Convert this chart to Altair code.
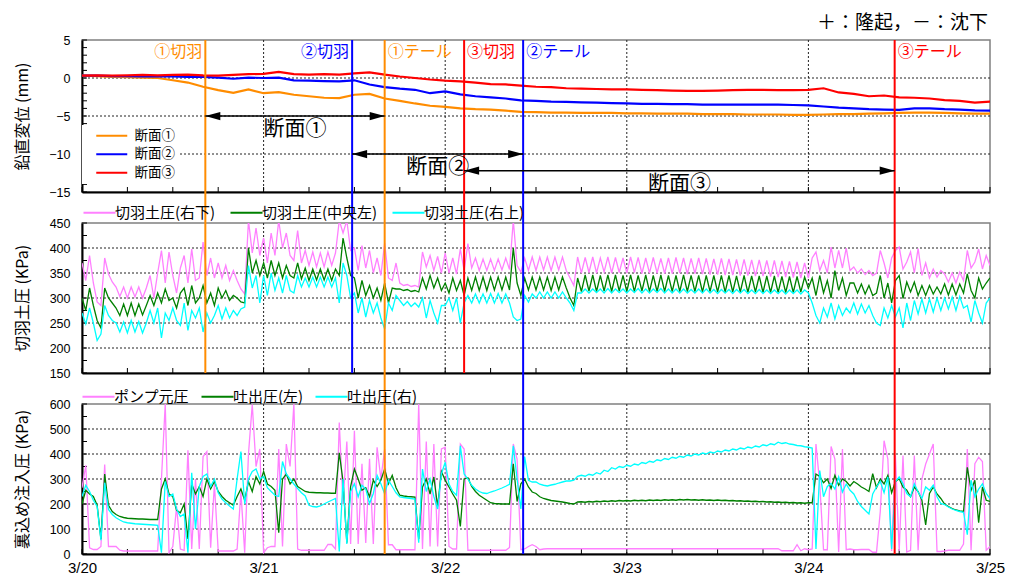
import altair as alt
import pandas as pd

FONT = "Noto Sans CJK JP"
NUM_FONT = "Liberation Sans"

# ---------------- time grids (hours after 3/20 00:00) ----------------
HOURS_P1 = [0, 2, 4, 6, 8, 10, 12, 14, 16, 18,
            20, 22, 24, 26, 28, 30, 32, 34, 36, 38,
            40, 42, 44, 46, 48, 50, 52, 54, 56, 58,
            60, 62, 64, 66, 68, 70, 72, 74, 76, 78,
            80, 82, 84, 86, 88, 90, 92, 94, 96, 98,
            100, 102, 104, 106, 108, 110, 112, 114, 116, 118,
            120]

HOURS = [0, 0.5, 1, 1.5, 2, 2.5, 3, 3.5, 4, 4.5, 5, 5.5,
         6, 6.5, 7, 7.5, 8, 8.5, 9, 9.5, 10, 10.5, 11, 11.5,
         12, 12.5, 13, 13.5, 14, 14.5, 15, 15.5, 16, 16.5, 17, 17.5,
         18, 18.5, 19, 19.5, 20, 20.5, 21, 21.5, 22, 22.5, 23, 23.5,
         24, 24.5, 25, 25.5, 26, 26.5, 27, 27.5, 28, 28.5, 29, 29.5,
         30, 30.5, 31, 31.5, 32, 32.5, 33, 33.5, 34, 34.5, 35, 35.5,
         36, 36.5, 37, 37.5, 38, 38.5, 39, 39.5, 40, 40.5, 41, 41.5,
         42, 42.5, 43, 43.5, 44, 44.5, 45, 45.5, 46, 46.5, 47, 47.5,
         48, 48.5, 49, 49.5, 50, 50.5, 51, 51.5, 52, 52.5, 53, 53.5,
         54, 54.5, 55, 55.5, 56, 56.5, 57, 57.5, 58, 58.5, 59, 59.5,
         60, 60.5, 61, 61.5, 62, 62.5, 63, 63.5, 64, 64.5, 65, 65.5,
         66, 66.5, 67, 67.5, 68, 68.5, 69, 69.5, 70, 70.5, 71, 71.5,
         72, 72.5, 73, 73.5, 74, 74.5, 75, 75.5, 76, 76.5, 77, 77.5,
         78, 78.5, 79, 79.5, 80, 80.5, 81, 81.5, 82, 82.5, 83, 83.5,
         84, 84.5, 85, 85.5, 86, 86.5, 87, 87.5, 88, 88.5, 89, 89.5,
         90, 90.5, 91, 91.5, 92, 92.5, 93, 93.5, 94, 94.5, 95, 95.5,
         96, 96.5, 97, 97.5, 98, 98.5, 99, 99.5, 100, 100.5, 101, 101.5,
         102, 102.5, 103, 103.5, 104, 104.5, 105, 105.5, 106, 106.5, 107, 107.5,
         108, 108.5, 109, 109.5, 110, 110.5, 111, 111.5, 112, 112.5, 113, 113.5,
         114, 114.5, 115, 115.5, 116, 116.5, 117, 117.5, 118, 118.5, 119, 119.5,
         120]

DAY_TICKS = [0, 24, 48, 72, 96, 120]
QUARTER_TICKS = [0, 6, 12, 18, 24, 30, 36, 42, 48, 54, 60, 66, 72, 78, 84, 90, 96, 102, 108, 114, 120]

# ---------------- panel 1: vertical displacement (mm) ----------------
P1_NAMES = ["断面①", "断面②", "断面③"]
P1_COLORS = ["#FF8C00", "#0000FF", "#FF0000"]
SEC1_MM = [0.3, 0.25, 0.15, 0.1, 0.05, 0.0, -0.3, -0.6, -1.15, -1.6,
           -1.95, -1.5, -2.0, -1.85, -2.2, -2.4, -2.6, -2.65, -2.2, -2.1,
           -2.7, -3.0, -3.35, -3.65, -3.8, -4.0, -4.1, -4.15, -4.3, -4.45,
           -4.5, -4.55, -4.55, -4.6, -4.6, -4.6, -4.65, -4.65, -4.7, -4.7,
           -4.7, -4.75, -4.75, -4.75, -4.8, -4.8, -4.8, -4.85, -4.85, -4.8,
           -4.75, -4.75, -4.7, -4.65, -4.6, -4.55, -4.55, -4.6, -4.65, -4.7,
           -4.7]
SEC2_MM = [0.3, 0.3, 0.25, 0.25, 0.2, 0.2, 0.2, 0.15, 0.15, 0.05,
           -0.1, 0.05, 0.0, 0.05, -0.3, -0.35, -0.4, -0.45, -0.3, -0.85,
           -1.2, -1.4, -1.55, -2.0, -1.75, -2.15, -2.4, -2.55, -2.7, -2.95,
           -3.0, -3.1, -3.15, -3.2, -3.25, -3.3, -3.35, -3.4, -3.4, -3.45,
           -3.45, -3.5, -3.5, -3.5, -3.5, -3.5, -3.5, -3.55, -3.6, -3.75,
           -3.9, -4.0, -4.1, -4.15, -4.2, -4.0, -4.0, -4.1, -4.15, -4.25,
           -4.3]
SEC3_MM = [0.3, 0.35, 0.3, 0.35, 0.4, 0.35, 0.4, 0.45, 0.35, 0.3,
           0.4, 0.5, 0.55, 0.8, 0.5, 0.45, 0.5, 0.45, 0.6, 0.75,
           0.45, 0.2, 0.0, -0.2, -0.35, -0.45, -0.6, -0.8, -0.85, -1.0,
           -1.15, -1.2, -1.35, -1.4, -1.45, -1.5, -1.5, -1.55, -1.6, -1.65,
           -1.7, -1.7, -1.65, -1.6, -1.55, -1.55, -1.6, -1.6, -1.55, -1.35,
           -1.9, -2.1, -2.4, -2.3, -2.55, -2.6, -2.7, -2.9, -3.0, -3.25,
           -3.1]

# ---------------- panel 2: face earth pressure (kPa) ----------------
P2_NAMES = ["切羽土圧(右下)", "切羽土圧(中央左)", "切羽土圧(右上)"]
P2_COLORS = ["#FF80FF", "#008000", "#00FFFF"]
FACE_RIGHT_LOWER = [
    370, 335, 385, 330, 292, 285, 380, 348, 332, 322, 303, 322,
    300, 322, 302, 322, 300, 320, 345, 300, 350, 395, 330, 392,
    345, 310, 360, 385, 330, 398, 335, 340, 412, 345, 380, 340,
    370, 340, 365, 335, 355, 335, 318, 308, 455, 390, 440, 385,
    420, 370, 430, 385, 455, 400, 430, 385, 375, 435, 370, 395,
    365, 392, 362, 390, 362, 392, 365, 390, 455, 430, 455, 395,
    400, 355, 405, 360, 395, 350, 380, 345, 410, 340, 335, 370,
    330, 325, 327, 323, 325, 322, 392, 362, 385, 355, 383, 350,
    390, 350, 380, 348, 398, 355, 409, 360, 380, 355, 378, 355,
    378, 355, 378, 356, 380, 357, 455, 365, 352, 380, 355, 382,
    355, 382, 356, 382, 355, 382, 356, 382, 355, 340, 325, 382,
    350, 381, 351, 382, 350, 380, 352, 382, 350, 381, 351, 380,
    350, 382, 351, 381, 349, 380, 350, 381, 350, 379, 349, 380,
    349, 381, 350, 380, 348, 379, 349, 380, 348, 379, 347, 378,
    347, 379, 346, 378, 346, 377, 345, 377, 345, 376, 344, 376,
    344, 375, 343, 375, 342, 374, 342, 373, 341, 372, 340, 370,
    340, 380, 392, 355, 375, 350, 402, 360, 395, 360, 400, 355,
    362, 350, 358, 347, 355, 345, 350, 395, 370, 340, 380, 395,
    402, 358, 372, 392, 350, 399, 345, 370, 340, 358, 342, 355,
    348, 332, 350, 330, 352, 335, 395, 360, 372, 398, 358, 385, 365]
FACE_CENTER_LEFT = [
    300, 275, 320, 285, 255, 240, 320, 300, 290, 280, 265, 288,
    265, 290, 265, 288, 266, 285, 305, 285, 310, 290, 318, 295,
    300, 280, 310, 320, 285, 325, 290, 300, 325, 290, 310, 285,
    320, 300, 315, 295, 305, 300, 292, 290, 400, 350, 375, 345,
    370, 340, 375, 345, 370, 340, 365, 345, 340, 370, 338, 360,
    335, 358, 336, 358, 336, 358, 335, 358, 345, 420, 380, 345,
    340, 300, 335, 305, 325, 300, 320, 295, 330, 290, 320, 318,
    318, 315, 317, 313, 315, 312, 340, 318, 345, 320, 340, 315,
    330, 310, 340, 315, 335, 305, 340, 315, 342, 315, 342, 315,
    342, 316, 342, 316, 342, 316, 400, 330, 305, 340, 316, 342,
    316, 342, 316, 342, 315, 342, 316, 342, 320, 300, 285, 340,
    313, 346, 314, 346, 313, 345, 314, 346, 313, 346, 314, 345,
    313, 346, 313, 345, 314, 346, 313, 345, 313, 346, 313, 345,
    313, 345, 313, 346, 313, 345, 313, 345, 312, 345, 313, 345,
    312, 345, 312, 345, 312, 344, 312, 345, 311, 344, 312, 344,
    311, 344, 311, 344, 311, 343, 311, 343, 311, 343, 312, 342,
    320, 340, 305, 345, 310, 335, 300, 355, 315, 340, 305, 330,
    330, 310, 328, 308, 325, 305, 310, 345, 300, 330, 290, 335,
    345, 299, 332, 312, 332, 305, 325, 305, 325, 308, 322, 308,
    328, 306, 328, 306, 328, 310, 348, 315, 300, 340, 318, 330, 340]
FACE_RIGHT_UPPER = [
    270, 248, 280, 250, 215, 228, 285, 265, 255, 250, 232, 252,
    230, 255, 232, 253, 230, 250, 275, 250, 280, 220, 270, 255,
    280, 255, 245, 290, 235, 275, 260, 280, 232, 270, 250, 265,
    285, 258, 280, 260, 275, 265, 278, 282, 365, 320, 345, 290,
    345, 305, 350, 315, 340, 310, 345, 315, 310, 345, 322, 340,
    322, 342, 322, 342, 322, 342, 322, 340, 290, 370, 345, 300,
    310, 270, 300, 262, 295, 270, 290, 260, 238, 290, 275, 305,
    295, 285, 293, 283, 290, 282, 300, 260, 295, 270, 250, 285,
    285, 300, 275, 300, 250, 290, 305, 290, 308, 290, 308, 290,
    309, 290, 309, 290, 308, 290, 262, 255, 258, 305, 292, 308,
    300, 312, 300, 312, 300, 312, 300, 312, 300, 290, 275, 310,
    310, 318, 310, 318, 311, 318, 310, 319, 310, 318, 311, 318,
    310, 318, 311, 319, 310, 318, 310, 318, 311, 319, 310, 318,
    310, 318, 310, 318, 310, 317, 310, 318, 310, 318, 310, 317,
    309, 317, 310, 317, 309, 317, 310, 317, 309, 316, 309, 317,
    309, 316, 309, 316, 309, 316, 308, 316, 309, 316, 308, 316,
    310, 290, 265, 250, 280, 262, 290, 258, 285, 265, 280, 270,
    290, 268, 288, 270, 285, 265, 250, 245, 280, 260, 285, 262,
    280, 240, 290, 255, 295, 268, 298, 270, 298, 272, 300, 275,
    300, 278, 302, 275, 303, 280, 285, 252, 295, 270, 250, 290, 300]

# ---------------- panel 3: backfill injection pressure (kPa) ----------------
P3_NAMES = ["ポンプ元圧", "吐出圧(左)", "吐出圧(右)"]
P3_COLORS = ["#FF80FF", "#008000", "#00FFFF"]
PUMP = [
    265, 355, 25, 18, 18, 30, 358, 30, 30, 30, 15, 12,
    12, 12, 12, 12, 12, 12, 12, 12, 12, 300, 600, 5,
    30, 190, 20, 15, 415, 20, 300, 20, 390, 410, 25, 280,
    12, 12, 12, 12, 12, 20, 250, 5, 400, 598, 350, 420,
    5, 25, 30, 30, 420, 30, 440, 350, 600, 20, 15, 15,
    15, 15, 15, 15, 15, 38, 38, 20, 526, 200, 450, 40,
    493, 40, 361, 44, 381, 40, 427, 300, 420, 37, 37, 17,
    17, 17, 17, 17, 17, 600, 20, 450, 30, 440, 30, 420,
    427, 30, 20, 20, 440, 420, 15, 15, 15, 15, 15, 15,
    15, 15, 15, 15, 15, 26, 440, 380, 17, 20, 30, 37,
    30, 17, 20, 21, 21, 21, 21, 21, 21, 21, 21, 21,
    21, 21, 21, 21, 21, 21, 21, 21, 21, 21, 21, 21,
    21, 21, 21, 21, 21, 21, 21, 21, 21, 21, 21, 21,
    21, 21, 21, 21, 21, 21, 21, 21, 21, 21, 21, 21,
    21, 21, 21, 21, 21, 21, 21, 21, 21, 21, 21, 21,
    21, 21, 21, 21, 21, 13, 13, 13, 13, 37, 13, 21,
    17, 20, 440, 280, 17, 17, 430, 380, 8, 420, 17, 20,
    17, 17, 18, 18, 18, 7, 7, 170, 453, 380, 12, 395,
    12, 394, 8, 15, 394, 15, 300, 360, 400, 440, 10, 10,
    12, 15, 15, 15, 15, 40, 420, 15, 361, 387, 370, 15, 30]
OUT_LEFT = [
    200, 255, 240, 230, 195, 60, 320, 195, 170, 158, 150, 146,
    143, 142, 141, 140, 140, 139, 138, 138, 138, 260, 300, 240,
    230, 175, 165, 200, 60, 280, 240, 270, 230, 300, 260, 290,
    250, 230, 215, 205, 195, 230, 260, 215, 290, 250, 310, 280,
    330, 280, 270, 255, 85, 300, 320, 280, 300, 270, 260, 250,
    247, 246, 245, 245, 244, 244, 243, 243, 405, 290, 45, 270,
    340, 300, 255, 265, 229, 295, 270, 295, 340, 281, 315, 265,
    235, 232, 230, 229, 228, 60, 268, 300, 240, 308, 190, 330,
    295, 268, 240, 215, 110, 300, 305, 270, 250, 235, 225, 215,
    205, 202, 201, 200, 200, 200, 361, 210, 281, 300, 268, 248,
    242, 229, 222, 218, 214, 212, 210, 208, 205, 202, 200, 208,
    209, 207, 210, 208, 211, 209, 212, 210, 213, 211, 214, 212,
    214, 212, 215, 213, 215, 213, 216, 214, 216, 214, 217, 215,
    217, 215, 218, 216, 218, 216, 217, 215, 217, 215, 216, 214,
    216, 214, 215, 213, 214, 212, 213, 211, 212, 210, 211, 209,
    210, 208, 209, 207, 208, 206, 207, 205, 206, 204, 205, 203,
    205, 205, 320, 310, 285, 300, 262, 315, 275, 300, 290, 272,
    290, 280, 268, 260, 250, 321, 265, 300, 280, 315, 245, 290,
    301, 268, 255, 229, 268, 250, 215, 116, 242, 268, 240, 222,
    200, 190, 182, 176, 172, 170, 347, 255, 295, 125, 268, 215, 210]
OUT_RIGHT = [
    230, 275, 250, 215, 190, 55, 285, 178, 158, 145, 136, 128,
    125, 123, 121, 120, 119, 118, 117, 116, 115, 5, 290, 230,
    240, 180, 150, 160, 5, 325, 100, 270, 310, 320, 270, 300,
    245, 220, 205, 192, 180, 300, 410, 200, 300, 330, 340, 300,
    310, 265, 250, 235, 230, 370, 320, 300, 280, 262, 245, 232,
    195, 190, 188, 192, 200, 208, 215, 222, 10, 300, 40, 250,
    281, 229, 275, 260, 202, 242, 315, 281, 240, 295, 270, 245,
    228, 226, 224, 222, 220, 45, 340, 250, 300, 230, 180, 320,
    367, 280, 250, 235, 433, 320, 300, 275, 260, 250, 244, 242,
    248, 252, 258, 264, 271, 279, 433, 300, 180, 390, 295, 288,
    288, 279, 275, 272, 276, 279, 284, 288, 292, 292, 295, 311,
    315, 311, 319, 315, 325, 320, 335, 330, 345, 340, 350, 346,
    355, 351, 360, 356, 366, 362, 371, 367, 377, 373, 382, 378,
    387, 383, 391, 387, 396, 392, 400, 396, 404, 400, 408, 404,
    412, 408, 416, 412, 420, 416, 424, 420, 428, 424, 432, 428,
    437, 433, 441, 437, 447, 442, 445, 440, 438, 434, 433, 429,
    427, 424, 20, 334, 229, 270, 282, 260, 308, 248, 280, 255,
    240, 210, 190, 175, 160, 240, 268, 290, 245, 308, 20, 290,
    308, 281, 242, 229, 281, 248, 222, 268, 255, 275, 229, 202,
    198, 188, 180, 174, 170, 167, 77, 295, 229, 260, 281, 242, 222]

# ---------------- events & sections ----------------
EVENT_NAMES = ["①切羽", "②切羽", "①テール", "③切羽", "②テール", "③テール"]
EVENT_HOURS = [16.3, 35.7, 40.0, 50.5, 58.3, 107.4]
EVENT_SECTION = ["①", "②", "①", "③", "②", "③"]
EVENT_KIND = ["切羽", "切羽", "テール", "切羽", "テール", "テール"]
LEFT_LABELS = ["①切羽", "②切羽"]

SEC_KEYS = ["①", "②", "③"]
SEC_COLORS = ["#FF8C00", "#0000FF", "#FF0000"]
SECTION_NAMES = ["断面①", "断面②", "断面③"]
SECTION_LEVELS = [-5, -10, -12.2]

NOTE = "＋：隆起，－：沈下"

Y1_LABELS = [5, 0, -5, -10, -15]
Y2_LABELS = [450, 400, 350, 300, 250, 200, 150]
Y3_LABELS = [600, 500, 400, 300, 200, 100, 0]
Y1_MINOR = list(range(-15, 6))
Y2_MINOR = list(range(150, 451, 25))
Y3_MINOR = list(range(0, 601, 50))

# ---------------- build tables ----------------
def long_df(names, series, hours):
    rows = []
    for n, vals in zip(names, series):
        assert len(vals) == len(hours), (n, len(vals), len(hours))
        for h, v in zip(hours, vals):
            rows.append({"h": h, "v": v, "s": n})
    return pd.DataFrame(rows)

df1 = long_df(P1_NAMES, [SEC1_MM, SEC2_MM, SEC3_MM], HOURS_P1)
df2 = long_df(P2_NAMES, [FACE_RIGHT_LOWER, FACE_CENTER_LEFT, FACE_RIGHT_UPPER], HOURS)
df3 = long_df(P3_NAMES, [PUMP, OUT_LEFT, OUT_RIGHT], HOURS)

ev_df = pd.DataFrame({"name": EVENT_NAMES, "h": EVENT_HOURS, "sec": EVENT_SECTION, "kind": EVENT_KIND})

sec_rows = []
for key, name, lvl in zip(SEC_KEYS, SECTION_NAMES, SECTION_LEVELS):
    st = [h for h, s, k in zip(EVENT_HOURS, EVENT_SECTION, EVENT_KIND) if s == key and k == "切羽"][0]
    en = [h for h, s, k in zip(EVENT_HOURS, EVENT_SECTION, EVENT_KIND) if s == key and k == "テール"][0]
    sec_rows.append({"name": name, "start": st, "end": en, "level": lvl})
sec_df = pd.DataFrame(sec_rows)

# ---------------- layout constants ----------------
W = 908
H1, H2, H3 = 152, 150, 150
GAP = 31
XS = alt.Scale(domain=[0, 120], nice=False, zero=False)
SEC_SCALE = alt.Scale(domain=SEC_KEYS, range=SEC_COLORS)

AX_X_PLAIN = alt.Axis(labels=False, ticks=False, grid=False, title=None,
                      domainColor="black", domainWidth=2)
AX_X_DATES = alt.Axis(values=DAY_TICKS, labelExpr="'3/' + (20 + round(datum.value / 24))",
                      labelFlush=False, labelFont=NUM_FONT, labelFontSize=15, labelColor="black",
                      labelPadding=6, ticks=False, grid=False, title=None,
                      domainColor="black", domainWidth=2)


def y_axis(values, title):
    return alt.Axis(values=values, title=title, titleX=-60, titleBaseline="middle",
                    titleFont=FONT, titleFontSize=16, titleFontWeight="normal", titleColor="black",
                    labelFont=NUM_FONT, labelFontSize=12.5, labelColor="black", labelPadding=12,
                    ticks=False, grid=False, domainColor="black", domainWidth=2)


def legend_vertical():
    return alt.Legend(title=None, orient="none", legendX=0, legendY=85, direction="vertical",
                      symbolType="M-3.1,0H3.1", symbolSize=100, symbolStrokeWidth=2,
                      symbolOffset=19, labelOffset=16, labelFont=FONT, labelFontSize=13.5,
                      labelColor="black", rowPadding=3.5, padding=4, fillColor="white")


def legend_horizontal(lx, ly, colpad):
    return alt.Legend(title=None, orient="none", legendX=lx, legendY=ly, direction="horizontal",
                      symbolType="M-3.2,0H3.2", symbolSize=100, symbolStrokeWidth=2,
                      symbolOffset=10, labelOffset=8, labelFont=FONT, labelFontSize=15,
                      labelColor="black", columnPadding=colpad, padding=0)


def panel(H, ydom, yax, xax, y_labels, y_minor, sdf, names, colors, legend, sw,
          ev_data, ev_top, extra_layers):
    ys = alt.Scale(domain=ydom, nice=False, zero=False)

    def X(f):
        return alt.X(f"{f}:Q", scale=XS, axis=xax)

    def Y(f):
        return alt.Y(f"{f}:Q", scale=ys, axis=yax)

    lo, hi = min(ydom), max(ydom)
    layers = []
    layers.append(alt.Chart(pd.DataFrame({"v": [v for v in y_labels if lo < v < hi]}))
                  .mark_rule(color="#222222", strokeWidth=1, strokeDash=[2, 2])
                  .encode(y=Y("v")))
    layers.append(alt.Chart(pd.DataFrame({"h": [d for d in DAY_TICKS if 0 < d < 120]}))
                  .mark_rule(color="#222222", strokeWidth=1, strokeDash=[2, 2])
                  .encode(x=X("h")))
    layers.append(alt.Chart(pd.DataFrame({"v": y_minor}))
                  .mark_rule(color="black", strokeWidth=1)
                  .encode(y=Y("v"), x=alt.value(0), x2=alt.value(5)))
    layers.append(alt.Chart(pd.DataFrame({"h": QUARTER_TICKS}))
                  .mark_rule(color="black", strokeWidth=1)
                  .encode(x=X("h"), y=alt.value(H), y2=alt.value(H - 5)))
    for n in names:
        layers.append(alt.Chart(sdf).transform_filter(alt.datum.s == n)
                      .mark_line(strokeWidth=sw, clip=True)
                      .encode(x=X("h"), y=Y("v"),
                              color=alt.Color("s:N", scale=alt.Scale(domain=names, range=colors),
                                              legend=legend)))
    layers.append(alt.Chart(ev_data).mark_rule(strokeWidth=2)
                  .encode(x=X("h"), y=alt.value(ev_top), y2=alt.value(H),
                          stroke=alt.Stroke("sec:N", scale=SEC_SCALE, legend=None)))
    for lay in extra_layers:
        layers.append(lay(X, Y))
    return alt.layer(*layers).properties(width=W, height=H)


def ev_labels_left(X, Y):
    return (alt.Chart(ev_df)
            .transform_filter(alt.FieldOneOfPredicate(field="name", oneOf=LEFT_LABELS))
            .mark_text(align="right", baseline="middle", dx=-3, fontSize=16, font=FONT)
            .encode(x=X("h"), y=alt.value(12), text="name:N",
                    fill=alt.Fill("sec:N", scale=SEC_SCALE, legend=None)))


def ev_labels_right(X, Y):
    return (alt.Chart(ev_df)
            .transform_filter(~alt.FieldOneOfPredicate(field="name", oneOf=LEFT_LABELS))
            .mark_text(align="left", baseline="middle", dx=3, fontSize=16, font=FONT)
            .encode(x=X("h"), y=alt.value(12), text="name:N",
                    fill=alt.Fill("sec:N", scale=SEC_SCALE, legend=None)))


def arrow_shaft(X, Y):
    return (alt.Chart(sec_df).mark_rule(color="black", strokeWidth=1.5)
            .encode(x=X("start"), x2="end:Q", y=Y("level")))


def arrow_head_left(X, Y):
    return (alt.Chart(sec_df)
            .mark_point(shape="M0,0L2,-0.55L2,0.55Z", filled=True, size=225, color="black",
                        opacity=1, strokeWidth=0)
            .encode(x=X("start"), y=Y("level")))


def arrow_head_right(X, Y):
    return (alt.Chart(sec_df)
            .mark_point(shape="M0,0L-2,-0.55L-2,0.55Z", filled=True, size=225, color="black",
                        opacity=1, strokeWidth=0)
            .encode(x=X("end"), y=Y("level")))


def arrow_label(X, Y):
    return (alt.Chart(sec_df)
            .transform_calculate(mid="(datum.start + datum.end) / 2")
            .mark_text(dy=13, fontSize=21, baseline="middle", font=FONT, color="black")
            .encode(x=X("mid"), y=Y("level"), text="name:N"))


def note_text(X, Y):
    return (alt.Chart(pd.DataFrame({"t": [NOTE]}))
            .mark_text(align="right", baseline="middle", fontSize=19, font=FONT, color="black")
            .encode(x=alt.value(906), y=alt.value(-17.5), text="t:N"))


p1 = panel(H1, [-15, 5], y_axis(Y1_LABELS, "鉛直変位 (mm)"), AX_X_PLAIN, Y1_LABELS, Y1_MINOR,
           df1, P1_NAMES, P1_COLORS, legend_vertical(), 2.2, ev_df, 0,
           [ev_labels_left, ev_labels_right, arrow_shaft, arrow_head_left, arrow_head_right,
            arrow_label, note_text])

p2 = panel(H2, [150, 450], y_axis(Y2_LABELS, "切羽土圧 (KPa)"), AX_X_PLAIN, Y2_LABELS, Y2_MINOR,
           df2, P2_NAMES, P2_COLORS, legend_horizontal(0, -18, 10), 1.3, ev_df, -GAP, [])

p3 = panel(H3, [0, 600], y_axis(Y3_LABELS, "裏込め注入圧 (KPa)"), AX_X_DATES, Y3_LABELS, Y3_MINOR,
           df3, P3_NAMES, P3_COLORS, legend_horizontal(-1, -15, 7), 1.3,
           ev_df[ev_df["kind"] == "テール"], -GAP, [])

chart = (alt.vconcat(p1, p2, p3, spacing=GAP, bounds="flush")
         .resolve_scale(color="independent", stroke="independent", fill="independent",
                        x="independent", y="independent")
         .resolve_legend(color="independent")
         .properties(padding={"left": 5, "top": 4, "right": 5, "bottom": 3})
         .configure(font=FONT, view=alt.ViewConfig(stroke="#808080", strokeWidth=1.5)))

chart.save("out.html", embed_options={"renderer": "svg", "actions": False})
